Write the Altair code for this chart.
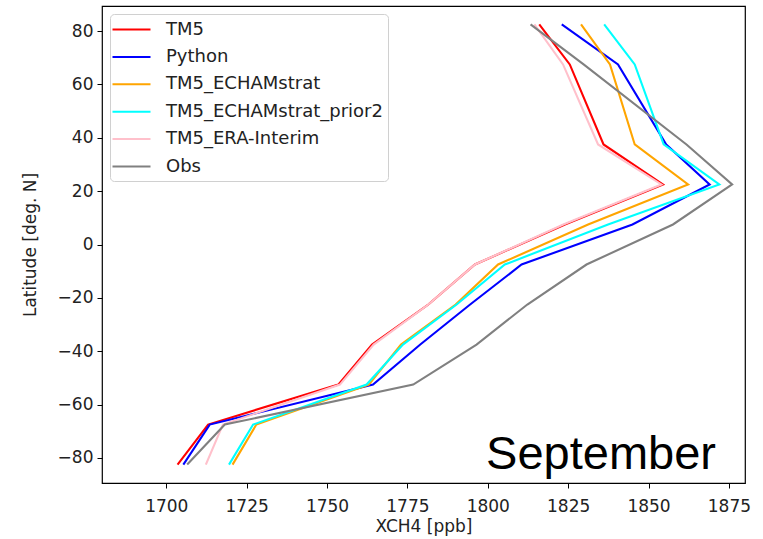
import altair as alt
import pandas as pd

# Latitude bands (deg N)
lats = [82.5, 67.5, 37.5, 22.5, 7.5, -7.5, -22.5, -37.5, -52.5, -67.5, -82.5]

series_names = ["TM5", "Python", "TM5_ECHAMstrat", "TM5_ECHAMstrat_prior2",
                "TM5_ERA-Interim", "Obs"]
series_colors = ["red", "blue", "orange", "cyan", "pink", "gray"]

tm5 = [1816.0, 1825.5, 1836.0, 1854.5, 1824.0, 1796.0, 1781.5, 1764.0, 1753.5, 1713.0, 1703.5]
python = [1823.0, 1840.5, 1855.5, 1869.0, 1845.0, 1810.5, 1794.5, 1779.0, 1764.3, 1713.5, 1705.3]
echam = [1829.0, 1838.0, 1845.7, 1862.3, 1831.2, 1803.2, 1790.0, 1773.0, 1763.0, 1728.0, 1720.6]
echam_p2 = [1836.2, 1845.7, 1854.7, 1872.0, 1837.4, 1805.3, 1790.3, 1773.6, 1762.3, 1727.0, 1719.5]
era = [1814.5, 1823.4, 1834.3, 1854.0, 1823.5, 1796.0, 1781.5, 1764.5, 1754.0, 1717.6, 1712.3]
obs = [1813.3, 1829.8, 1861.8, 1876.0, 1857.6, 1830.7, 1812.3, 1796.5, 1776.8, 1718.2, 1706.5]

x_ticks = [1700, 1725, 1750, 1775, 1800, 1825, 1850, 1875]
y_ticks = [-80, -60, -40, -20, 0, 20, 40, 60, 80]
month_label = "September"

all_vals = [tm5, python, echam, echam_p2, era, obs]
rows = []
for name, vals in zip(series_names, all_vals):
    for j, (lat, v) in enumerate(zip(lats, vals)):
        rows.append({"series": name, "lat": lat, "xch4": v, "order": j})
df = pd.DataFrame(rows)

FONT = "DejaVu Sans"

lines = alt.Chart(df).mark_line(strokeWidth=2.1, clip=True).encode(
    x=alt.X("xch4:Q",
            scale=alt.Scale(domain=[1680, 1880], nice=False, zero=False),
            axis=alt.Axis(values=x_ticks, title="XCH4 [ppb]", format="d")),
    y=alt.Y("lat:Q",
            scale=alt.Scale(domain=[-89.4, 89.4], nice=False, zero=False),
            axis=alt.Axis(values=y_ticks, title="Latitude [deg. N]", format="d")),
    color=alt.Color("series:N",
                    scale=alt.Scale(domain=series_names, range=series_colors),
                    legend=alt.Legend(
                        title=None, orient="none", legendX=8, legendY=8,
                        symbolType="M-2,0H2", symbolStrokeWidth=2, symbolSize=361,
                        symbolOffset=6,
                        labelFontSize=18, labelFont=FONT, labelColor="#222",
                        labelLimit=0,
                        fillColor="white", strokeColor="#d0d0d0", cornerRadius=4,
                        padding=5, rowPadding=7.4, labelOffset=24,
                    )),
    order=alt.Order("order:Q"),
)

text = alt.Chart(pd.DataFrame({"label": [month_label]})).mark_text(
    align="right", baseline="alphabetic", fontSize=47,
    font="Liberation Sans", color="black",
).encode(
    text="label:N",
    x=alt.value(614),
    y=alt.value(463),
)

chart = alt.layer(lines, text).properties(
    width=643, height=477,
    autosize=alt.AutoSizeParams(type="none"),
    padding={"left": 102, "top": 6, "right": 18, "bottom": 56},
).configure_view(
    stroke="black", strokeWidth=1.2,
).configure_axis(
    grid=False, domain=False, ticks=True, tickColor="black", tickSize=5,
    labelFont=FONT, labelFontSize=17, labelColor="#222",
    titleFont=FONT, titleFontSize=17, titleColor="#222", titleFontWeight="normal",
).configure_axisX(labelPadding=10, titlePadding=4).configure_axisY(labelPadding=4, titlePadding=18)

chart.save("out.html", embed_options={"renderer": "svg", "actions": False})
